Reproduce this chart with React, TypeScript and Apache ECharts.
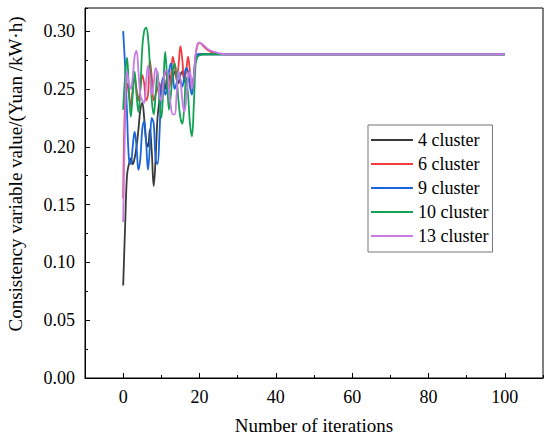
import React, { useEffect, useRef } from "react";
import * as echarts from "echarts";

const iterations = [
  0, 0.5, 1, 1.5, 2, 2.5, 3, 3.5, 4, 4.5, 5, 5.5, 6, 6.5, 7, 7.5, 8, 8.5, 9, 9.5,
  10, 10.5, 11, 11.5, 12, 12.5, 13, 13.5, 14, 14.5, 15, 15.5, 16, 16.5, 17, 17.5,
  18, 18.5, 19, 19.5, 20, 21, 22, 23, 24, 25, 27, 30, 100,
];

const cluster4 = [
  0.08, 0.13, 0.175, 0.185, 0.19, 0.185, 0.19, 0.2, 0.215, 0.232, 0.238, 0.225,
  0.205, 0.2, 0.215, 0.195, 0.166, 0.19, 0.225, 0.24, 0.25, 0.255, 0.25, 0.26,
  0.262, 0.255, 0.26, 0.265, 0.26, 0.255, 0.262, 0.265, 0.258, 0.255, 0.26, 0.255,
  0.252, 0.26, 0.275, 0.279, 0.28, 0.28, 0.28, 0.28, 0.28, 0.28, 0.28, 0.28, 0.28,
];

const cluster6 = [
  0.155, 0.24, 0.255, 0.245, 0.235, 0.25, 0.26, 0.25, 0.24, 0.25, 0.262, 0.255,
  0.24, 0.245, 0.275, 0.26, 0.24, 0.245, 0.25, 0.255, 0.248, 0.252, 0.265, 0.26,
  0.25, 0.26, 0.278, 0.27, 0.258, 0.27, 0.287, 0.275, 0.258, 0.265, 0.278, 0.265,
  0.249, 0.26, 0.28, 0.288, 0.29, 0.287, 0.284, 0.282, 0.281, 0.2805, 0.28, 0.28, 0.28,
];

const cluster9 = [
  0.3, 0.27, 0.23, 0.19, 0.185, 0.2, 0.213, 0.2, 0.18, 0.19, 0.215, 0.222, 0.205,
  0.18, 0.2, 0.225, 0.22, 0.19, 0.185, 0.21, 0.25, 0.26, 0.245, 0.25, 0.265, 0.272,
  0.262, 0.25, 0.255, 0.263, 0.258, 0.252, 0.26, 0.268, 0.265, 0.252, 0.245, 0.26,
  0.277, 0.28, 0.28, 0.28, 0.28, 0.28, 0.28, 0.28, 0.28, 0.28, 0.28,
];

const cluster10 = [
  0.232, 0.26, 0.277, 0.25, 0.226, 0.245, 0.265, 0.245, 0.23, 0.25, 0.285, 0.3,
  0.303, 0.295, 0.27, 0.24, 0.228, 0.245, 0.265, 0.24, 0.225, 0.25, 0.282, 0.26,
  0.232, 0.245, 0.265, 0.272, 0.26, 0.24, 0.225, 0.22, 0.235, 0.26, 0.245, 0.22,
  0.209, 0.235, 0.272, 0.278, 0.279, 0.28, 0.28, 0.28, 0.28, 0.28, 0.28, 0.28, 0.28,
];

const cluster13 = [
  0.135, 0.22, 0.265, 0.255, 0.25, 0.26, 0.278, 0.283, 0.265, 0.245, 0.24, 0.238,
  0.255, 0.27, 0.26, 0.245, 0.255, 0.268, 0.262, 0.245, 0.24, 0.255, 0.265, 0.266,
  0.25, 0.235, 0.228, 0.228, 0.245, 0.265, 0.258, 0.24, 0.23, 0.24, 0.26, 0.265,
  0.25, 0.26, 0.28, 0.289, 0.29, 0.288, 0.285, 0.283, 0.282, 0.281, 0.28, 0.28, 0.28,
];

const seriesNames = ["4 cluster", "6 cluster", "9 cluster", "10 cluster", "13 cluster"];
const seriesValues = [cluster4, cluster6, cluster9, cluster10, cluster13];
const seriesColors = ["#3a3a3a", "#f23a3f", "#1a66d9", "#12a352", "#c67be6"];

const FONT = "Times New Roman";

export default function App() {
  const ref = useRef<HTMLDivElement>(null);

  useEffect(() => {
    if (!ref.current) return;
    const chart = echarts.init(ref.current, undefined, { renderer: "svg" });
    const axisLabelStyle = { color: "#000", fontFamily: FONT, fontSize: 18 };
    chart.setOption({
      animation: false,
      backgroundColor: "#fff",
      textStyle: { fontFamily: FONT },
      grid: {
        left: 85,
        right: 7,
        top: 8,
        bottom: 61,
        show: true,
        borderColor: "#000",
        borderWidth: 1,
      },
      legend: {
        orient: "vertical",
        left: 368,
        top: 125,
        data: seriesNames,
        icon: "rect",
        itemWidth: 42,
        itemHeight: 2,
        itemGap: 4,
        padding: [5, 4, 6, 3],
        borderColor: "#777",
        borderWidth: 1,
        textStyle: { color: "#000", fontFamily: FONT, fontSize: 18, lineHeight: 20 },
      },
      xAxis: [
        {
          type: "value",
          min: -10,
          max: 110,
          splitNumber: 6,
          name: "Number of iterations",
          nameLocation: "middle",
          nameGap: 38,
          nameTextStyle: { color: "#000", fontFamily: FONT, fontSize: 19 },
          axisLine: { onZero: false, lineStyle: { color: "#000", width: 1 } },
          axisTick: { inside: true, length: 5, lineStyle: { color: "#000" } },
          axisLabel: { ...axisLabelStyle, margin: 10, showMinLabel: false, showMaxLabel: false },
          splitLine: { show: false },
        },
        {
          type: "value",
          min: -10,
          max: 110,
          interval: 10,
          position: "bottom",
          axisLine: { show: false, onZero: false },
          axisTick: { inside: true, length: 3, lineStyle: { color: "#000" } },
          axisLabel: { show: false },
          splitLine: { show: false },
        },
      ],
      yAxis: [
        {
          type: "value",
          min: 0,
          max: 0.32,
          interval: 0.05,
          axisLine: { show: true, onZero: false, lineStyle: { color: "#000", width: 1 } },
          axisTick: { show: true, inside: true, length: 5, lineStyle: { color: "#000" } },
          axisLabel: {
            ...axisLabelStyle,
            margin: 10,
            showMaxLabel: false,
            formatter: (v: number) => v.toFixed(2),
          },
          splitLine: { show: false },
        },
        {
          type: "value",
          min: 0,
          max: 0.32,
          interval: 0.025,
          position: "left",
          axisLine: { show: false, onZero: false },
          axisTick: { show: true, inside: true, length: 3, lineStyle: { color: "#000" } },
          axisLabel: { show: false },
          splitLine: { show: false },
        },
      ],
      graphic: [
        {
          type: "text",
          x: 15,
          y: 174,
          rotation: Math.PI / 2,
          style: {
            text: "Consistency variable value/(Yuan /kW·h)",
            fontFamily: FONT,
            fontSize: 19,
            fill: "#000",
            align: "center",
            verticalAlign: "middle",
          },
        },
      ],
      series: seriesNames.map((name, k) => ({
        name,
        type: "line",
        xAxisIndex: 0,
        yAxisIndex: 0,
        symbol: "none",
        smooth: 0.4,
        color: seriesColors[k],
        lineStyle: { width: 1.8, color: seriesColors[k] },
        data: iterations.map((x, i) => [x, seriesValues[k][i]]),
      })),
    });
    return () => chart.dispose();
  }, []);

  return (
    <div
      ref={ref}
      style={{ position: "fixed", left: 0, top: 0, width: 550, height: 440 }}
    />
  );
}
